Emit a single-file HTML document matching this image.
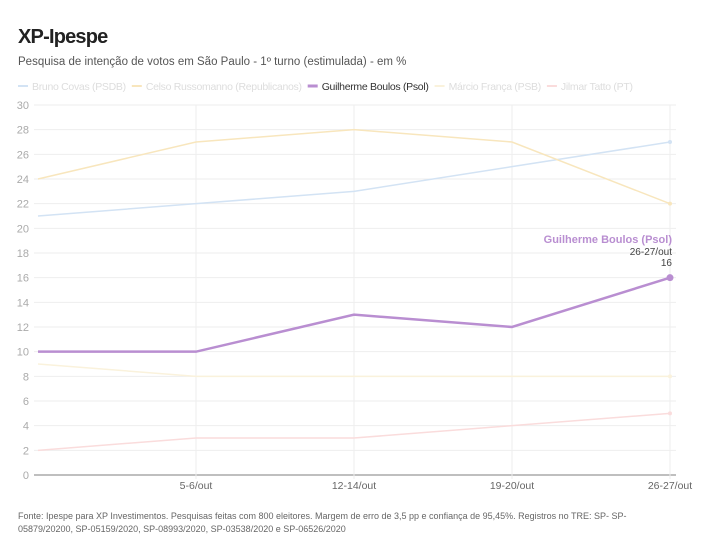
<!DOCTYPE html>
<html><head><meta charset="utf-8"><style>
body{margin:0;background:#fff;font-family:"Liberation Sans",sans-serif;width:720px;height:559px;overflow:hidden;position:relative}
.t{position:absolute;left:18px;top:26px;font-size:20px;font-weight:bold;color:#222;letter-spacing:-0.8px}
.s{position:absolute;left:18px;top:56px;font-size:11.5px;color:#555}
.f{position:absolute;left:18px;top:510px;width:660px;font-size:9px;line-height:13px;color:#666}
</style></head><body>
<div class="t">XP-Ipespe</div>
<div class="s">Pesquisa de intenção de votos em São Paulo - 1º turno (estimulada) - em %</div>
<svg id="c" width="720" height="559" style="position:absolute;left:0;top:0"></svg>
<div class="f">Fonte: Ipespe para XP Investimentos. Pesquisas feitas com 800 eleitores. Margem de erro de 3,5 pp e confiança de 95,45%. Registros no TRE: SP- SP-05879/20200, SP-05159/2020, SP-08993/2020, SP-03538/2020 e SP-06526/2020</div>
<script>
const categories=["","5-6/out","12-14/out","19-20/out","26-27/out"];
const seriesNames=["Bruno Covas (PSDB)","Celso Russomanno (Republicanos)","Guilherme Boulos (Psol)","Márcio França (PSB)","Jilmar Tatto (PT)"];
const covas=[21,22,23,25,27];
const russomanno=[24,27,28,27,22];
const boulos=[10,10,13,12,16];
const franca=[9,8,8,8,8];
const tatto=[2,3,3,4,5];
const yTicks=[0,2,4,6,8,10,12,14,16,18,20,22,24,26,28,30];
const colors=["#d3e3f4","#f8e6bd","#b98ed1","#faf2dc","#fadcdc"];
const all=[covas,russomanno,boulos,franca,tatto];
const svg=document.getElementById('c');const NS="http://www.w3.org/2000/svg";
function mk(t,a,p){const e=document.createElementNS(NS,t);for(const k in a)e.setAttribute(k,a[k]);(p||svg).appendChild(e);return e;}
const x=i=>38+i*158, y=v=>475-v*(370/30);
yTicks.forEach(v=>{
 const l=mk('line',{x1:34,x2:676,y1:y(v),y2:y(v),stroke:v===0?'#aaa':'#eee','stroke-width':v===0?1.5:1});
 
 
 const t=mk('text',{x:29,y:y(v)+4,'text-anchor':'end','font-size':11,fill:'#aaa'});t.textContent=v;
 
 
});
categories.forEach((c,i)=>{
 if(i>0){const l=mk('line',{x1:x(i),x2:x(i),y1:y(30),y2:y(0)+4,stroke:'#eee'});
 
 }
 const t=mk('text',{x:x(i),y:489,'text-anchor':'middle','font-size':10.5,fill:'#666'});t.textContent=c;
 
 
});
all.forEach((d,s)=>{
 const p=mk('polyline',{points:d.map((v,i)=>x(i)+','+y(v)).join(' '),fill:'none',stroke:colors[s],'stroke-width':s===2?2.5:1.5});
 
 
 const last=d.length-1;
 const c=mk('circle',{cx:x(last),cy:y(d[last]),r:s===2?3.5:2,fill:colors[s]});
 
 
});
let lx=18;
seriesNames.forEach((n,s)=>{
 const l=mk('line',{x1:lx,x2:lx+10,y1:86,y2:86,stroke:colors[s],'stroke-width':s===2?3:2});
 
 
 const t=mk('text',{x:lx+14,y:90,'font-size':10.5,fill:s===2?'#333':'#ddd','letter-spacing':'-0.3'});t.textContent=n;
 
 
 lx+=14+t.getComputedTextLength()+6;
});
const lastI=4;
const a1=mk('text',{x:672,y:243,'text-anchor':'end','font-size':11,'font-weight':'bold',fill:'#b98ed1'});a1.textContent=seriesNames[2];


const a2=mk('text',{x:672,y:255,'text-anchor':'end','font-size':10,fill:'#444'});a2.textContent=categories[lastI];


const a3=mk('text',{x:672,y:266,'text-anchor':'end','font-size':10,fill:'#444'});a3.textContent=boulos[lastI];


</script>
</body></html>
